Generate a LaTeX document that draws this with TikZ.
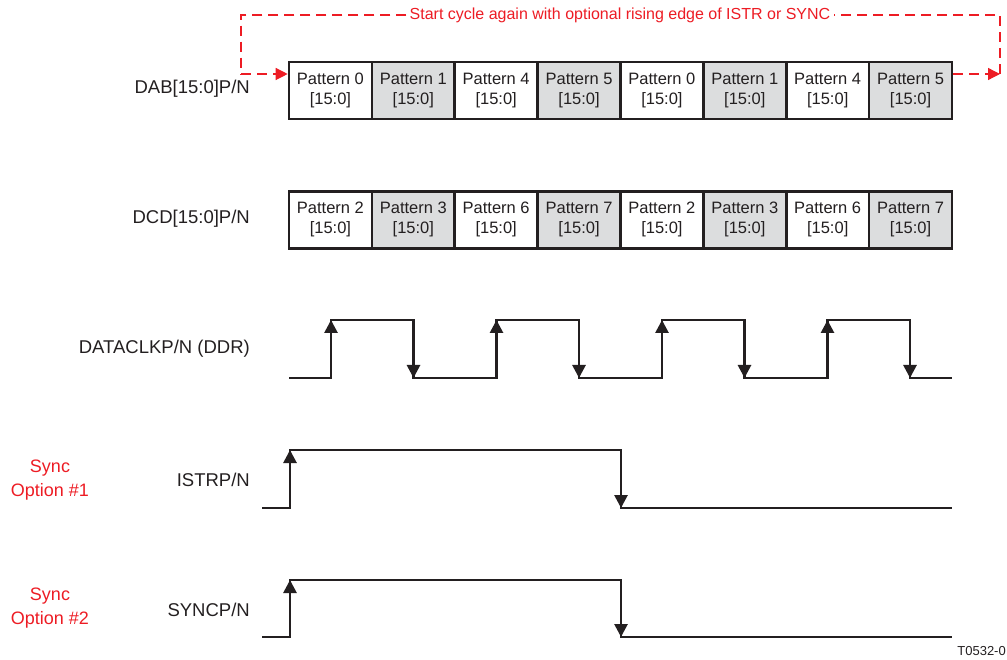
\documentclass[tikz,border=0pt]{standalone}
\usepackage{fontspec}
\setmainfont{Liberation Sans}
\usetikzlibrary{arrows.meta,calc}
\definecolor{ink}{RGB}{35,31,32}
\definecolor{sred}{RGB}{237,28,36}
\definecolor{cellgray}{RGB}{220,221,222}
\begin{document}
\begin{tikzpicture}[x=1pt,y=-1pt,
  cellbox/.style={draw=ink,line width=2.6pt,minimum width=82.875pt,minimum height=57pt,inner sep=0pt,
    align=center,text=ink,font=\fontsize{16.5}{20}\selectfont},
  sig/.style={anchor=east,text=ink,font=\fontsize{18.5}{21}\selectfont,inner sep=0pt},
  redlbl/.style={align=center,text=sred,font=\fontsize{18}{24}\selectfont,inner sep=0pt},
  wave/.style={draw=ink,line width=2.7pt},
  edgearr/.style={draw=ink,line width=2.7pt,-{Triangle[length=13pt,width=13pt]}},
  dashline/.style={draw=sred,line width=1.3pt,dash pattern=on 10pt off 6pt},
  dasharr/.style={dashline,-{Triangle[length=12pt,width=12pt]}}
]
\useasboundingbox (0,0) rectangle (1007,660);
% DAB row
\foreach \i/\p in {0/0,1/1,2/4,3/5,4/0,5/1,6/4,7/5}{
  \pgfmathtruncatemacro{\odd}{mod(\i,2)}
  \ifnum\odd=1
    \node[cellbox,fill=cellgray] (a\i) at ({330.4375+82.875*\i},90.5) {\strut Pattern \p\\\strut{[15:0]}};
  \else
    \node[cellbox,fill=white] (a\i) at ({330.4375+82.875*\i},90.5) {\strut Pattern \p\\\strut{[15:0]}};
  \fi
}
% DCD row
\foreach \i/\p in {0/2,1/3,2/6,3/7,4/2,5/3,6/6,7/7}{
  \pgfmathtruncatemacro{\odd}{mod(\i,2)}
  \ifnum\odd=1
    \node[cellbox,fill=cellgray] (d\i) at ({330.4375+82.875*\i},220) {\strut Pattern \p\\\strut{[15:0]}};
  \else
    \node[cellbox,fill=white] (d\i) at ({330.4375+82.875*\i},220) {\strut Pattern \p\\\strut{[15:0]}};
  \fi
}
% signal labels
\node[sig] (ldab) at (250,89) {DAB[15:0]P/N};
\node[sig] (ldcd) at (250,219) {DCD[15:0]P/N};
\node[sig] (lclk) at (250,349) {DATACLKP/N (DDR)};
\node[sig] (listr) at (250,480) {ISTRP/N};
\node[sig] (lsync) at (250,610) {SYNCP/N};
\node[redlbl] (opt1) at (50,480) {Sync\\Option \#1};
\node[redlbl] (opt2) at (50,608) {Sync\\Option \#2};
\node[anchor=east,text=ink,font=\fontsize{13}{15}\selectfont,inner sep=0pt] (tag) at (1006,651) {T0532-0};
% dashed loop
\node[text=sred,fill=white,inner sep=3pt,font=\fontsize{16}{18}\selectfont] (title) at (620,15) {Start cycle again with optional rising edge of ISTR or SYNC};
\coordinate (lt) at (241,15);
\coordinate (lp) at (241,74);
\coordinate (rt) at (1000,15);
\coordinate (rp) at (1000,74);
\draw[dashline] (title.west) -- (lt) -- (lp);
\draw[dasharr] (lp) -- (a0.west |- lp);
\draw[dasharr] (a7.east |- rp) -- (rp);
\draw[dashline] (rp) -- (rt) -- (title.east);
% clock
\draw[wave] (289,378) -- (331,378) -- (331,320) -- (413.5,320) -- (413.5,378)
  -- (496.5,378) -- (496.5,320) -- (579,320) -- (579,378)
  -- (662,378) -- (662,320) -- (744.5,320) -- (744.5,378)
  -- (827.5,378) -- (827.5,320) -- (910,320) -- (910,378) -- (952,378);
\foreach \r in {331,496.5,662,827.5}{\draw[edgearr] (\r,378) -- (\r,320);}
\foreach \f in {413.5,579,744.5,910}{\draw[edgearr] (\f,320) -- (\f,378);}
% ISTR
\draw[wave] (262,508) -- (290,508) -- (290,450) -- (621,450) -- (621,508) -- (952,508);
\draw[edgearr] (290,508) -- (290,450);
\draw[edgearr] (621,450) -- (621,508);
% SYNC
\draw[wave] (262,637) -- (290,637) -- (290,580) -- (621,580) -- (621,637) -- (952,637);
\draw[edgearr] (290,637) -- (290,580);
\draw[edgearr] (621,580) -- (621,637);
\end{tikzpicture}
\end{document}
